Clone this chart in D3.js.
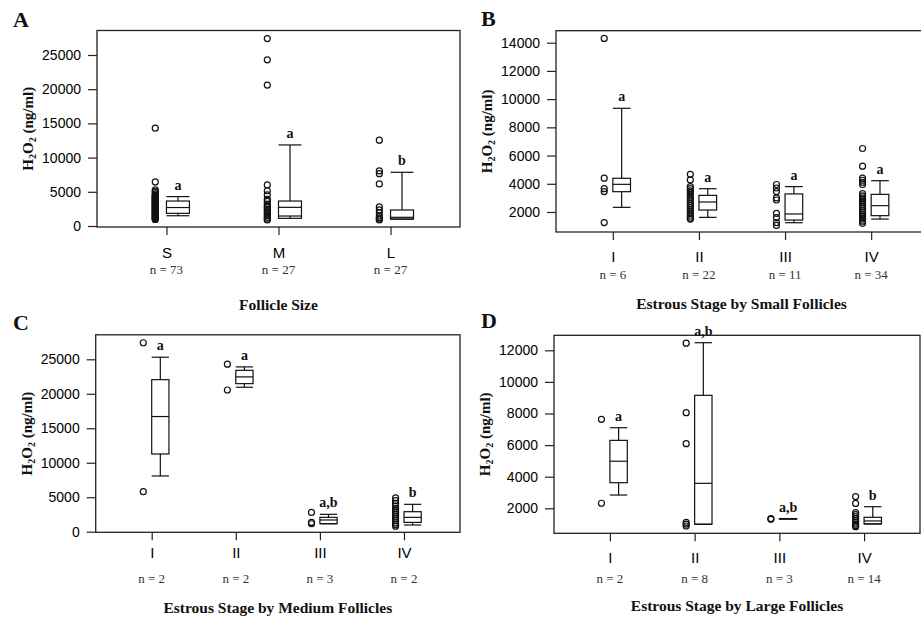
<!DOCTYPE html>
<html><head><meta charset="utf-8">
<script src="https://cdn.jsdelivr.net/npm/d3@7"></script>
<style>
body{margin:0;background:#fff;}
svg{display:block;}
</style></head>
<body><svg id="chart" width="921" height="623"></svg>
<script>
// ---------- DATA ----------
const sizeCats = ["S", "M", "L"];
const sizeN = ["n = 73", "n = 27", "n = 27"];
const sizeLetters = ["a", "a", "b"];
// [low whisker, Q1, median, Q3, high whisker]
const sizeBoxes = [
  [1500, 1850, 2700, 3650, 4300],
  [1460, 1120, 2730, 3650, 11850],
  [1000, 1020, 1270, 2340, 7850]
];
const sizePoints = [
  [14300, 6450, 5300, 5100, 4900, 4700, 4500, 4400, 4300, 4200, 4100, 4000, 3900, 3800, 3700, 3600, 3500, 3400, 3300, 3200, 3100, 3000, 2900, 2800, 2700, 2600, 2500, 2400, 2300, 2200, 2100, 2000, 1900, 1800, 1700, 1600, 1500, 1400, 1300, 1200, 1100, 1000, 950],
  [27400, 24300, 20600, 6000, 5150, 4550, 3900, 3600, 3200, 2900, 2700, 2450, 2250, 2000, 1750, 1500, 1250, 1000, 880],
  [12550, 8050, 7650, 6150, 2800, 2350, 1900, 1450, 1200, 1000, 880]
];
const sizeTicks = [0, 5000, 10000, 15000, 20000, 25000];

const stageCats = ["I", "II", "III", "IV"];

const smallN = ["n = 6", "n = 22", "n = 11", "n = 34"];
const smallLetters = ["a", "a", "a", "a"];
const smallBoxes = [
  [2330, 3440, 3960, 4390, 9350],
  [1620, 2140, 2710, 3180, 3650],
  [1240, 1430, 1860, 3280, 3800],
  [1500, 1740, 2450, 3250, 4220]
];
const smallPoints = [
  [14300, 4400, 3650, 3450, 1250],
  [4670, 4270, 3800, 3650, 3500, 3350, 3200, 3050, 2900, 2750, 2600, 2450, 2300, 2150, 2000, 1850, 1700, 1550, 1500],
  [3950, 3700, 3450, 3000, 2850, 1900, 1600, 1250, 1050],
  [6500, 5250, 4400, 4250, 4100, 3950, 3300, 3150, 3000, 2850, 2700, 2550, 2400, 2250, 2100, 1950, 1800, 1650, 1500, 1350, 1200]
];
const smallTicks = [2000, 4000, 6000, 8000, 10000, 12000, 14000];

const mediumN = ["n = 2", "n = 2", "n = 3", "n = 2"];
const mediumLetters = ["a", "a", "a,b", "b"];
const mediumBoxes = [
  [8080, 11270, 16700, 22050, 25300],
  [20950, 21470, 22450, 23400, 23900],
  [1160, 1160, 1700, 2080, 2520],
  [970, 1350, 2080, 2900, 3970]
];
const mediumPoints = [
  [27400, 5800],
  [24300, 20550],
  [2800, 1350, 1150],
  [4900, 4500, 4100, 3700, 3400, 3100, 2800, 2500, 2200, 1900, 1600, 1300, 1050, 800]
];
const mediumTicks = [0, 5000, 10000, 15000, 20000, 25000];

const largeN = ["n = 2", "n = 8", "n = 3", "n = 14"];
const largeLetters = ["a", "a,b", "a,b", "b"];
const largeBoxes = [
  [2840, 3620, 4980, 6300, 7100],
  [990, 990, 3580, 9150, 12480],
  [1330, 1330, 1340, 1350, 1350],
  [1010, 1010, 1200, 1430, 2100]
];
const largePoints = [
  [7630, 2320],
  [12450, 8050, 6090, 1110, 1000, 880],
  [1350, 1300],
  [2740, 2310, 1720, 1600, 1480, 1360, 1240, 1120, 1000, 900, 840]
];
const largeTicks = [2000, 4000, 6000, 8000, 10000, 12000];

// ---------- LAYOUT ----------
const panels = [
  {label: "A", lx: 13, ly: 27, cats: sizeCats, n: sizeN, letters: sizeLetters, boxes: sizeBoxes, points: sizePoints, ticks: sizeTicks,
   title: "Follicle Size", x0: 97, x1: 460, y0: 30.5, y1: 227, pad: 0.62, cal: [0, 226, 25000, 55], catOff: 12, nOff: 47, titleY: 310},
  {label: "B", lx: 481, ly: 26, cats: stageCats, n: smallN, letters: smallLetters, boxes: smallBoxes, points: smallPoints, ticks: smallTicks,
   title: "Estrous Stage by Small Follicles", x0: 556, x1: 928, y0: 30.7, y1: 232, pad: 0.66, cal: [2000, 212, 14000, 42.7], catOff: 11, nOff: 47, titleY: 309},
  {label: "C", lx: 13, ly: 330, cats: stageCats, n: mediumN, letters: mediumLetters, boxes: mediumBoxes, points: mediumPoints, ticks: mediumTicks,
   title: "Estrous Stage by Medium Follicles", x0: 95.7, x1: 460, y0: 334.8, y1: 532.3, pad: 0.666, cal: [0, 531.7, 25000, 359.3], catOff: 7, nOff: 51, titleY: 613},
  {label: "D", lx: 481, ly: 328, cats: stageCats, n: largeN, letters: largeLetters, boxes: largeBoxes, points: largePoints, ticks: largeTicks,
   title: "Estrous Stage by Large Follicles", x0: 554, x1: 920, y0: 335.3, y1: 533.3, pad: 0.66, cal: [2000, 508.3, 12000, 350.3], catOff: 11, nOff: 50, titleY: 611}
];

const svg = d3.select("#chart");
const serif = "'Liberation Serif','Times New Roman',serif";
const sans = "'Liberation Sans',Arial,sans-serif";

panels.forEach(p => {
  const g = svg.append("g");
  const x = d3.scalePoint().domain(p.cats).range([p.x0, p.x1]).padding(p.pad);
  const y = d3.scaleLinear().domain([p.cal[0], p.cal[2]]).range([p.cal[1], p.cal[3]]);
  const step = x.step();
  const bw = step * 0.205;
  const pOff = -step * 0.1;

  // frame
  g.append("rect").attr("x", p.x0).attr("y", p.y0).attr("width", p.x1 - p.x0).attr("height", p.y1 - p.y0)
    .attr("fill", "none").attr("stroke", "#222").attr("stroke-width", 1.3);

  // y axis
  const ya = g.append("g").attr("transform", `translate(${p.x0},0)`)
    .call(d3.axisLeft(y).tickValues(p.ticks).tickSize(9).tickPadding(7).tickFormat(d3.format("d")));
  ya.select(".domain").remove();
  ya.selectAll(".tick line").attr("stroke", "#222").attr("stroke-width", 1.2);
  ya.selectAll(".tick text").attr("font-size", 14).attr("font-family", sans).attr("fill", "#000");

  // x axis
  const xa = g.append("g").attr("transform", `translate(0,${p.y1})`)
    .call(d3.axisBottom(x).tickSize(8).tickPadding(p.catOff));
  xa.select(".domain").remove();
  xa.selectAll(".tick line").attr("stroke", "#222").attr("stroke-width", 1.2);
  xa.selectAll(".tick text").attr("font-size", 15).attr("font-family", sans).attr("fill", "#000");

  // n labels
  g.selectAll(".nlab").data(p.cats).enter().append("text")
    .attr("x", d => x(d)).attr("y", p.y1 + p.nOff)
    .attr("text-anchor", "middle").attr("font-family", serif).attr("font-size", 13).attr("fill", "#333")
    .text((d, i) => p.n[i]);

  // points
  p.cats.forEach((c, i) => {
    g.selectAll(null).data(p.points[i]).enter().append("circle")
      .attr("cx", x(c) + pOff).attr("cy", v => y(v)).attr("r", 3)
      .attr("fill", "none").attr("stroke", "#111").attr("stroke-width", 1.2);
  });

  // boxes
  p.cats.forEach((c, i) => {
    const [lo, q1, med, q3, hi] = p.boxes[i];
    const bx = x(c), cx = bx + bw / 2;
    const bg = g.append("g").attr("stroke", "#111").attr("stroke-width", 1.2).attr("fill", "none");
    bg.append("line").attr("x1", cx).attr("x2", cx).attr("y1", y(q3)).attr("y2", y(hi));
    bg.append("line").attr("x1", cx).attr("x2", cx).attr("y1", y(q1)).attr("y2", y(lo));
    bg.append("line").attr("x1", bx).attr("x2", bx + bw).attr("y1", y(hi)).attr("y2", y(hi));
    bg.append("line").attr("x1", bx).attr("x2", bx + bw).attr("y1", y(lo)).attr("y2", y(lo));
    bg.append("rect").attr("x", bx).attr("y", y(Math.max(q1, q3))).attr("width", bw)
      .attr("height", Math.max(0.5, Math.abs(y(q1) - y(q3))));
    bg.append("line").attr("x1", bx).attr("x2", bx + bw).attr("y1", y(med)).attr("y2", y(med));
    // significance letter
    g.append("text").attr("x", cx).attr("y", y(hi) - 7)
      .attr("text-anchor", "middle").attr("font-family", serif).attr("font-weight", "bold")
      .attr("font-size", 14).attr("fill", "#111").text(p.letters[i]);
  });

  // y title
  const yt = g.append("text")
    .attr("transform", `translate(${p.x0 - 69},${(p.y0 + p.y1) / 2}) rotate(-90)`)
    .attr("text-anchor", "middle").attr("dominant-baseline", "central")
    .attr("font-family", serif).attr("font-weight", "bold").attr("font-size", 15).attr("fill", "#111");
  yt.append("tspan").text("H");
  yt.append("tspan").attr("font-size", 10).attr("dy", 4).text("2");
  yt.append("tspan").attr("dy", -4).text("O");
  yt.append("tspan").attr("font-size", 10).attr("dy", 4).text("2");
  yt.append("tspan").attr("dy", -4).text(" (ng/ml)");

  // x title
  g.append("text").attr("x", (p.x0 + Math.min(p.x1, 921)) / 2 + (p.x1 > 921 ? 3 : 0)).attr("y", p.titleY)
    .attr("text-anchor", "middle").attr("font-family", serif).attr("font-weight", "bold")
    .attr("font-size", 15.5).attr("fill", "#111").text(p.title);

  // panel label
  g.append("text").attr("x", p.lx).attr("y", p.ly).attr("font-family", serif).attr("font-weight", "bold")
    .attr("font-size", 22).attr("fill", "#111").text(p.label);
});
</script></body></html>
